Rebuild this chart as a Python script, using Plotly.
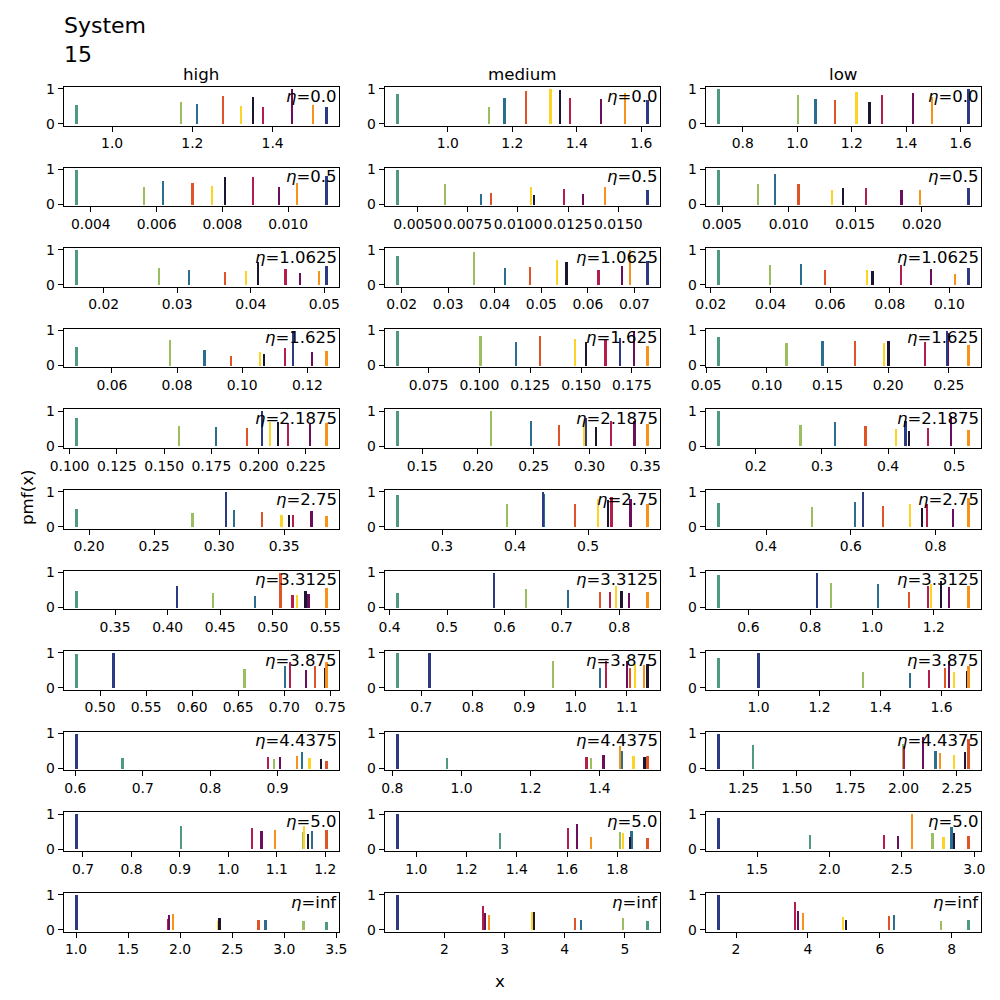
import plotly.graph_objects as go

# eta per row, quality per column
etas = ["0.0", "0.5", "1.0625", "1.625", "2.1875", "2.75", "3.3125", "3.875", "4.4375", "5.0", "inf"]
columns = ["high", "medium", "low"]

# one colour per series, same order in every panel
colors = ["#4f9a7e", "#9bbf5f", "#2a6f8f", "#df5427", "#fdd423",
          "#1a1530", "#b31e4a", "#6b0f5c", "#f7931a", "#2b3a82"]

# x positions and pmf per row (10 series each)
high_x = [
    [0.91, 1.17, 1.21, 1.275, 1.32, 1.35, 1.375, 1.447, 1.50, 1.533],
    [0.00355, 0.00561, 0.00619, 0.00708, 0.00766, 0.00807, 0.00892, 0.0097, 0.01026, 0.01115],
    [0.01623, 0.0274, 0.03155, 0.0364, 0.03927, 0.0409, 0.04464, 0.04664, 0.04918, 0.05023],
    [0.049, 0.0776, 0.0883, 0.0965, 0.1053, 0.1065, 0.113, 0.1213, 0.1257, 0.1154],
    [0.1034, 0.1575, 0.1771, 0.1935, 0.2056, 0.2098, 0.2153, 0.2268, 0.2356, 0.2015],
    [0.19, 0.2792, 0.3111, 0.3325, 0.3476, 0.353, 0.3564, 0.3705, 0.3821, 0.3047],
    [0.3129, 0.443, 0.4824, 0.5068, 0.5224, 0.5306, 0.5183, 0.5335, 0.5506, 0.4087],
    [0.4739, 0.6562, 0.7003, 0.7326, 0.7445, 0.7438, 0.7054, 0.7228, 0.7453, 0.5141],
    [0.6692, 0.8936, 0.9351, 0.9717, 0.9465, 0.9633, 0.8847, 0.9025, 0.9277, 0.601],
    [0.9015, 1.1532, 1.1711, 1.2014, 1.1553, 1.1629, 1.0473, 1.0673, 1.0948, 0.6856],
    [3.4004, 3.1787, 2.8155, 2.748, 2.356, 2.372, 1.88, 1.8869, 1.9287, 1.0],
]
high_y = [
    [0.54, 0.61, 0.56, 0.80, 0.50, 0.77, 0.48, 1.0, 0.53, 0.48],
    [1.0, 0.51, 0.67, 0.62, 0.55, 0.80, 0.78, 0.51, 0.62, 0.81],
    [1.0, 0.48, 0.41, 0.37, 0.40, 0.64, 0.46, 0.34, 0.39, 0.54],
    [0.55, 0.73, 0.44, 0.29, 0.38, 0.35, 0.50, 0.39, 0.41, 1.0],
    [0.80, 0.57, 0.55, 0.50, 0.67, 0.69, 0.66, 0.62, 0.64, 1.0],
    [0.50, 0.39, 0.47, 0.41, 0.34, 0.35, 0.33, 0.44, 0.30, 1.0],
    [0.47, 0.43, 0.35, 1.0, 0.37, 0.47, 0.37, 0.39, 0.56, 0.61],
    [0.97, 0.54, 0.63, 0.63, 0.60, 0.56, 0.73, 0.51, 0.73, 1.0],
    [0.32, 0.27, 0.49, 0.22, 0.31, 0.28, 0.33, 0.34, 0.37, 1.0],
    [0.64, 0.49, 0.50, 0.54, 0.64, 0.41, 0.60, 0.52, 0.55, 1.0],
    [0.23, 0.26, 0.29, 0.28, 0.24, 0.34, 0.30, 0.41, 0.44, 1.0],
]
medium_x = [
    [0.842, 1.125, 1.174, 1.241, 1.317, 1.347, 1.378, 1.474, 1.548, 1.618],
    [0.00397, 0.00635, 0.00812, 0.00863, 0.01062, 0.01077, 0.01227, 0.01322, 0.01433, 0.01643],
    [0.019, 0.0354, 0.0421, 0.0475, 0.0533, 0.0553, 0.0622, 0.0673, 0.069, 0.0727],
    [0.0595, 0.1003, 0.1178, 0.1296, 0.1467, 0.1523, 0.1617, 0.1756, 0.1824, 0.1687],
    [0.1275, 0.2111, 0.247, 0.2725, 0.2949, 0.3051, 0.3189, 0.3398, 0.3515, 0.2967],
    [0.2382, 0.3883, 0.4391, 0.4812, 0.5133, 0.5266, 0.5312, 0.5572, 0.5806, 0.4378],
    [0.4128, 0.6364, 0.7103, 0.7656, 0.793, 0.8029, 0.7831, 0.8163, 0.8483, 0.5805],
    [0.6525, 0.9556, 1.0467, 1.1052, 1.115, 1.139, 1.0584, 1.0987, 1.1325, 0.715],
    [0.9565, 1.3739, 1.4638, 1.5372, 1.4966, 1.5285, 1.3604, 1.4097, 1.457, 0.8135],
    [1.3309, 1.808, 1.8545, 1.9183, 1.8213, 1.8479, 1.602, 1.6379, 1.6937, 0.9229],
    [5.3666, 4.9562, 4.2573, 4.1575, 3.4476, 3.4864, 2.6323, 2.6656, 2.7266, 1.2124],
]
medium_y = [
    [0.84, 0.48, 0.74, 0.93, 1.0, 0.97, 0.74, 0.72, 0.88, 0.68],
    [1.0, 0.59, 0.30, 0.34, 0.50, 0.28, 0.46, 0.32, 0.52, 0.42],
    [0.81, 0.94, 0.49, 0.51, 0.72, 0.66, 0.42, 0.54, 1.0, 0.69],
    [1.0, 0.84, 0.67, 0.84, 0.77, 0.67, 0.76, 1.0, 0.57, 0.78],
    [0.98, 1.0, 0.72, 0.60, 0.70, 0.55, 0.72, 0.70, 0.63, 0.80],
    [0.92, 0.64, 0.95, 0.64, 0.80, 0.76, 0.86, 0.78, 0.64, 1.0],
    [0.42, 0.54, 0.51, 0.45, 0.63, 0.48, 0.45, 0.43, 0.45, 1.0],
    [1.0, 0.77, 0.57, 0.56, 0.67, 0.67, 0.76, 0.76, 0.65, 0.98],
    [0.31, 0.32, 0.50, 0.36, 0.36, 0.35, 0.34, 0.38, 0.64, 1.0],
    [0.44, 0.49, 0.51, 0.31, 0.44, 0.34, 0.59, 0.70, 0.35, 1.0],
    [0.26, 0.35, 0.27, 0.33, 0.52, 0.50, 0.67, 0.48, 0.43, 1.0],
]
low_x = [
    [0.709, 1.002, 1.065, 1.137, 1.216, 1.263, 1.31, 1.423, 1.494, 1.627],
    [0.0047, 0.00764, 0.00892, 0.0107, 0.01322, 0.01407, 0.01578, 0.01844, 0.01983, 0.02347],
    [0.0224, 0.0397, 0.05, 0.0581, 0.0721, 0.074, 0.0835, 0.0936, 0.1016, 0.1062],
    [0.0598, 0.1157, 0.1454, 0.1724, 0.1963, 0.1999, 0.2296, 0.2490, 0.2657, 0.2478],
    [0.1429, 0.2667, 0.3192, 0.3652, 0.4111, 0.4303, 0.4596, 0.4944, 0.5207, 0.4253],
    [0.2864, 0.5065, 0.6083, 0.6754, 0.7377, 0.7661, 0.7779, 0.8394, 0.8765, 0.6272],
    [0.5016, 0.8649, 1.0173, 1.1168, 1.1892, 1.2216, 1.1784, 1.2465, 1.3103, 0.8195],
    [0.8675, 1.3406, 1.4951, 1.61, 1.6396, 1.6812, 1.5575, 1.622, 1.6867, 0.9989],
    [1.291, 1.995, 2.147, 2.302, 2.233, 2.286, 2.001, 2.088, 2.167, 1.131],
    [1.8603, 2.7079, 2.8395, 2.9573, 2.7841, 2.858, 2.373, 2.4677, 2.567, 1.2298],
    [8.4532, 7.6825, 6.3733, 6.2432, 4.9619, 5.0362, 3.6249, 3.7084, 3.8477, 1.4986],
]
low_y = [
    [1.0, 0.81, 0.72, 0.69, 0.92, 0.61, 0.82, 0.87, 0.77, 0.98],
    [1.0, 0.58, 0.89, 0.60, 0.41, 0.47, 0.48, 0.41, 0.41, 0.47],
    [1.0, 0.56, 0.58, 0.41, 0.42, 0.38, 0.56, 0.45, 0.30, 0.48],
    [0.83, 0.66, 0.71, 0.70, 0.65, 0.71, 0.68, 0.95, 0.60, 1.0],
    [1.0, 0.60, 0.68, 0.56, 0.48, 0.42, 0.50, 0.85, 0.46, 0.70],
    [0.69, 0.57, 0.71, 0.60, 0.64, 0.53, 0.64, 0.52, 0.83, 1.0],
    [0.94, 0.71, 0.69, 0.45, 0.67, 0.76, 0.61, 0.58, 0.61, 1.0],
    [0.84, 0.44, 0.41, 0.57, 0.46, 0.49, 0.50, 0.76, 0.62, 1.0],
    [0.67, 0.71, 0.52, 0.84, 0.38, 0.48, 0.64, 0.90, 0.46, 1.0],
    [0.38, 0.46, 0.62, 0.37, 0.35, 0.45, 0.38, 0.36, 1.0, 0.89],
    [0.29, 0.24, 0.43, 0.39, 0.37, 0.29, 0.78, 0.54, 0.47, 1.0],
]

# tick spacing / label format per panel
high_dtick = [0.2, 0.002, 0.01, 0.02, 0.025, 0.05, 0.05, 0.05, 0.1, 0.1, 0.5]
medium_dtick = [0.2, 0.0025, 0.01, 0.025, 0.05, 0.1, 0.1, 0.1, 0.2, 0.2, 1]
low_dtick = [0.2, 0.005, 0.02, 0.05, 0.1, 0.2, 0.2, 0.2, 0.25, 0.5, 2]
high_fmt = [".1f", ".3f", ".2f", ".2f", ".3f", ".2f", ".2f", ".2f", ".1f", ".1f", ".1f"]
medium_fmt = [".1f", ".4f", ".2f", ".3f", ".2f", ".1f", ".1f", ".1f", ".1f", ".1f", ".0f"]
low_fmt = [".1f", ".3f", ".2f", ".2f", ".1f", ".1f", ".1f", ".1f", ".2f", ".1f", ".0f"]

panel_x = [high_x, medium_x, low_x]
panel_y = [high_y, medium_y, low_y]
panel_dtick = [high_dtick, medium_dtick, low_dtick]
panel_fmt = [high_fmt, medium_fmt, low_fmt]

FONT = "DejaVu Sans"
col_left = [63.5, 384.5, 705.5]
col_w = 275
row_top0, row_pitch, row_h = 87, 80.6, 38.5

fig = go.Figure()
annotations = []
for r in range(len(etas)):
    for c in range(3):
        k = r * 3 + c + 1
        sfx = "" if k == 1 else str(k)
        xs = panel_x[c][r]
        ys = panel_y[c][r]
        lo, hi = min(xs), max(xs)
        span = hi - lo
        fig.add_trace(go.Bar(
            x=xs, y=ys, width=[span * 0.009] * len(xs),
            marker=dict(color=colors, line=dict(width=0)),
            xaxis="x" + sfx, yaxis="y" + sfx, showlegend=False,
        ))
        top = row_top0 + r * row_pitch
        ax = dict(
            domain=[col_left[c] / 1000, (col_left[c] + col_w) / 1000],
            anchor="y" + sfx, range=[lo - 0.05 * span, hi + 0.05 * span],
            tick0=0, dtick=panel_dtick[c][r], tickformat=panel_fmt[c][r],
            tickangle=0,
            showgrid=False, zeroline=False, showline=True, mirror=True,
            linecolor="black", linewidth=1, ticks="outside", ticklen=5,
            tickwidth=1, tickcolor="black", automargin=False,
            tickfont=dict(family=FONT, size=13.9, color="black"),
        )
        ay = dict(
            domain=[1 - (top + row_h) / 1000, 1 - top / 1000],
            anchor="x" + sfx, range=[-0.05, 1.05],
            tickvals=[0, 1], ticktext=["0", "1"], tickangle=0,
            showgrid=False, zeroline=False, showline=True, mirror=True,
            linecolor="black", linewidth=1, ticks="outside", ticklen=5,
            tickwidth=1, tickcolor="black", automargin=False,
            tickfont=dict(family=FONT, size=13.9, color="black"),
        )
        fig.layout["xaxis" + sfx] = ax
        fig.layout["yaxis" + sfx] = ay
        annotations.append(dict(
            text="<i>η</i>=" + etas[r], xref="x%s domain" % sfx, yref="y%s domain" % sfx,
            x=1.0, y=1.06, xanchor="right", yanchor="top", showarrow=False,
            font=dict(family=FONT, size=16.5, color="black"),
        ))

for c, name in enumerate(columns):
    annotations.append(dict(
        text=name, xref="paper", yref="paper",
        x=(col_left[c] + col_w / 2) / 1000, y=1 - 86 / 1000,
        xanchor="center", yanchor="bottom", showarrow=False,
        font=dict(family=FONT, size=16.7, color="black"),
    ))

annotations += [
    dict(text="System<br>15", xref="paper", yref="paper", x=0.0615, y=0.989,
         xanchor="left", yanchor="top", align="left", showarrow=False,
         font=dict(family=FONT, size=22, color="black")),
    dict(text="pmf(x)", xref="paper", yref="paper", x=0.027, y=0.503, textangle=-90,
         xanchor="center", yanchor="middle", showarrow=False,
         font=dict(family=FONT, size=16.7, color="black")),
    dict(text="x", xref="paper", yref="paper", x=0.5, y=1 - 981 / 1000,
         xanchor="center", yanchor="middle", showarrow=False,
         font=dict(family=FONT, size=16.7, color="black")),
]

fig.update_layout(
    width=1000, height=1000,
    margin=dict(l=0, r=0, t=0, b=0, pad=0, autoexpand=False),
    paper_bgcolor="white", plot_bgcolor="white", bargap=0,
    annotations=annotations, font=dict(family=FONT),
)
# drop the page's default body margin so the figure sits at the window corner
fig.write_html("out.html", config={"displayModeBar": False},
               post_script="document.body.style.margin='0';")
